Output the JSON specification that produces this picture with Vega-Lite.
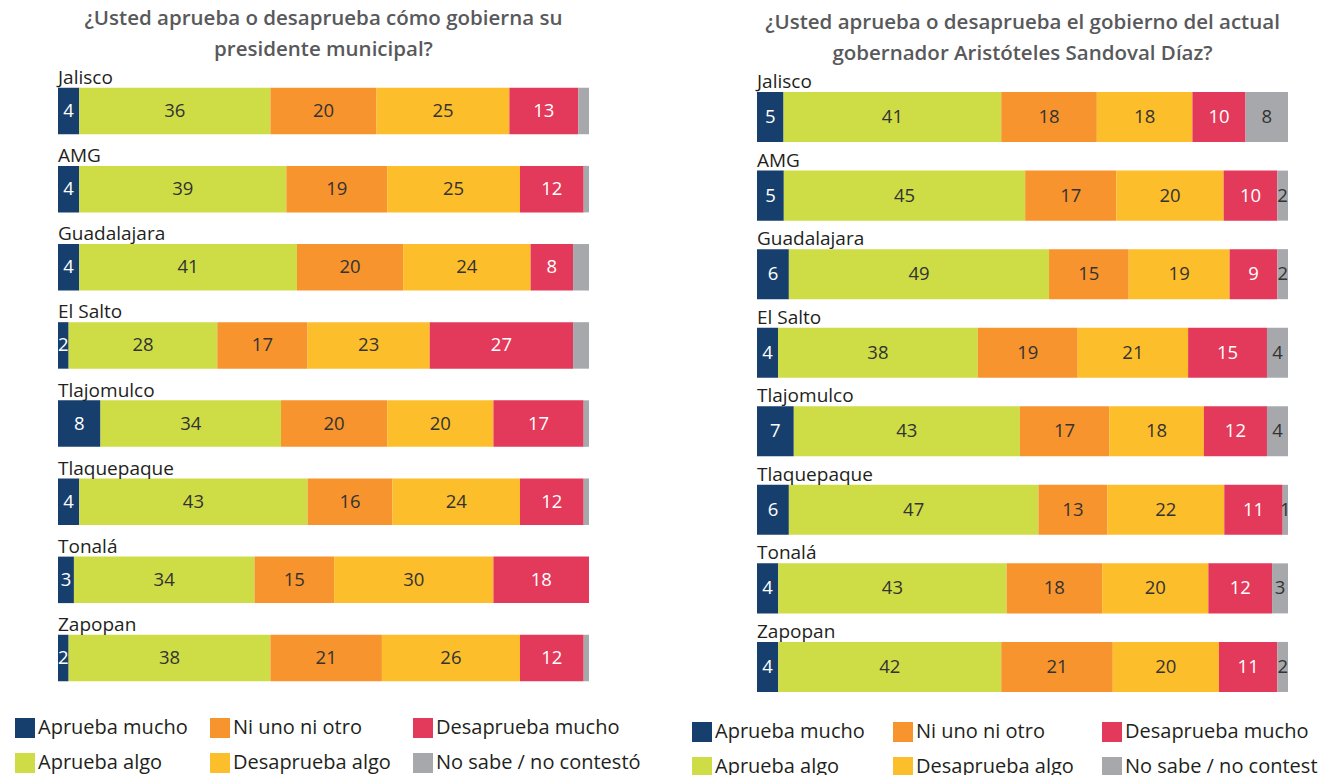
{
  "$schema": "https://vega.github.io/schema/vega-lite/v6.json",
  "padding": {"left": 15, "top": 9, "right": 0, "bottom": 0},
  "background": "white",
  "bounds": "flush",
  "spacing": 168,
  "config": {
    "view": {"stroke": null},
    "font": "Open Sans",
    "title": {"font": "Open Sans", "fontSize": 20.5, "fontWeight": 600, "color": "#58595b", "lineHeight": 31, "anchor": "middle", "frame": "group", "offset": 8},
    "legend": {
      "orient": "none", "direction": "horizontal", "columns": 3, "symbolType": "square", "symbolSize": 400,
      "symbolStrokeWidth": 0, "labelFontSize": 20, "labelFont": "Open Sans", "labelColor": "#231f20",
      "labelOffset": 3, "rowPadding": 15, "columnPadding": 23, "title": null, "labelLimit": 400, "gridAlign": "each"
    }
  },
  "resolve": {"legend": {"color": "independent"}},
  "datasets": {
    "left": [
      {"r": "Jalisco", "c": "Aprueba mucho", "o": 1, "v": 4},
      {"r": "Jalisco", "c": "Aprueba algo", "o": 2, "v": 36},
      {"r": "Jalisco", "c": "Ni uno ni otro", "o": 3, "v": 20},
      {"r": "Jalisco", "c": "Desaprueba algo", "o": 4, "v": 25},
      {"r": "Jalisco", "c": "Desaprueba mucho", "o": 5, "v": 13},
      {"r": "Jalisco", "c": "No sabe / no contestó", "o": 6, "v": 2},
      {"r": "AMG", "c": "Aprueba mucho", "o": 1, "v": 4},
      {"r": "AMG", "c": "Aprueba algo", "o": 2, "v": 39},
      {"r": "AMG", "c": "Ni uno ni otro", "o": 3, "v": 19},
      {"r": "AMG", "c": "Desaprueba algo", "o": 4, "v": 25},
      {"r": "AMG", "c": "Desaprueba mucho", "o": 5, "v": 12},
      {"r": "AMG", "c": "No sabe / no contestó", "o": 6, "v": 1},
      {"r": "Guadalajara", "c": "Aprueba mucho", "o": 1, "v": 4},
      {"r": "Guadalajara", "c": "Aprueba algo", "o": 2, "v": 41},
      {"r": "Guadalajara", "c": "Ni uno ni otro", "o": 3, "v": 20},
      {"r": "Guadalajara", "c": "Desaprueba algo", "o": 4, "v": 24},
      {"r": "Guadalajara", "c": "Desaprueba mucho", "o": 5, "v": 8},
      {"r": "Guadalajara", "c": "No sabe / no contestó", "o": 6, "v": 3},
      {"r": "El Salto", "c": "Aprueba mucho", "o": 1, "v": 2},
      {"r": "El Salto", "c": "Aprueba algo", "o": 2, "v": 28},
      {"r": "El Salto", "c": "Ni uno ni otro", "o": 3, "v": 17},
      {"r": "El Salto", "c": "Desaprueba algo", "o": 4, "v": 23},
      {"r": "El Salto", "c": "Desaprueba mucho", "o": 5, "v": 27},
      {"r": "El Salto", "c": "No sabe / no contestó", "o": 6, "v": 3},
      {"r": "Tlajomulco", "c": "Aprueba mucho", "o": 1, "v": 8},
      {"r": "Tlajomulco", "c": "Aprueba algo", "o": 2, "v": 34},
      {"r": "Tlajomulco", "c": "Ni uno ni otro", "o": 3, "v": 20},
      {"r": "Tlajomulco", "c": "Desaprueba algo", "o": 4, "v": 20},
      {"r": "Tlajomulco", "c": "Desaprueba mucho", "o": 5, "v": 17},
      {"r": "Tlajomulco", "c": "No sabe / no contestó", "o": 6, "v": 1},
      {"r": "Tlaquepaque", "c": "Aprueba mucho", "o": 1, "v": 4},
      {"r": "Tlaquepaque", "c": "Aprueba algo", "o": 2, "v": 43},
      {"r": "Tlaquepaque", "c": "Ni uno ni otro", "o": 3, "v": 16},
      {"r": "Tlaquepaque", "c": "Desaprueba algo", "o": 4, "v": 24},
      {"r": "Tlaquepaque", "c": "Desaprueba mucho", "o": 5, "v": 12},
      {"r": "Tlaquepaque", "c": "No sabe / no contestó", "o": 6, "v": 1},
      {"r": "Tonalá", "c": "Aprueba mucho", "o": 1, "v": 3},
      {"r": "Tonalá", "c": "Aprueba algo", "o": 2, "v": 34},
      {"r": "Tonalá", "c": "Ni uno ni otro", "o": 3, "v": 15},
      {"r": "Tonalá", "c": "Desaprueba algo", "o": 4, "v": 30},
      {"r": "Tonalá", "c": "Desaprueba mucho", "o": 5, "v": 18},
      {"r": "Tonalá", "c": "No sabe / no contestó", "o": 6, "v": 0},
      {"r": "Zapopan", "c": "Aprueba mucho", "o": 1, "v": 2},
      {"r": "Zapopan", "c": "Aprueba algo", "o": 2, "v": 38},
      {"r": "Zapopan", "c": "Ni uno ni otro", "o": 3, "v": 21},
      {"r": "Zapopan", "c": "Desaprueba algo", "o": 4, "v": 26},
      {"r": "Zapopan", "c": "Desaprueba mucho", "o": 5, "v": 12},
      {"r": "Zapopan", "c": "No sabe / no contestó", "o": 6, "v": 1}
    ],
    "right": [
      {"r": "Jalisco", "c": "Aprueba mucho", "o": 1, "v": 5},
      {"r": "Jalisco", "c": "Aprueba algo", "o": 2, "v": 41},
      {"r": "Jalisco", "c": "Ni uno ni otro", "o": 3, "v": 18},
      {"r": "Jalisco", "c": "Desaprueba algo", "o": 4, "v": 18},
      {"r": "Jalisco", "c": "Desaprueba mucho", "o": 5, "v": 10},
      {"r": "Jalisco", "c": "No sabe / no contestó", "o": 6, "v": 8},
      {"r": "AMG", "c": "Aprueba mucho", "o": 1, "v": 5},
      {"r": "AMG", "c": "Aprueba algo", "o": 2, "v": 45},
      {"r": "AMG", "c": "Ni uno ni otro", "o": 3, "v": 17},
      {"r": "AMG", "c": "Desaprueba algo", "o": 4, "v": 20},
      {"r": "AMG", "c": "Desaprueba mucho", "o": 5, "v": 10},
      {"r": "AMG", "c": "No sabe / no contestó", "o": 6, "v": 2},
      {"r": "Guadalajara", "c": "Aprueba mucho", "o": 1, "v": 6},
      {"r": "Guadalajara", "c": "Aprueba algo", "o": 2, "v": 49},
      {"r": "Guadalajara", "c": "Ni uno ni otro", "o": 3, "v": 15},
      {"r": "Guadalajara", "c": "Desaprueba algo", "o": 4, "v": 19},
      {"r": "Guadalajara", "c": "Desaprueba mucho", "o": 5, "v": 9},
      {"r": "Guadalajara", "c": "No sabe / no contestó", "o": 6, "v": 2},
      {"r": "El Salto", "c": "Aprueba mucho", "o": 1, "v": 4},
      {"r": "El Salto", "c": "Aprueba algo", "o": 2, "v": 38},
      {"r": "El Salto", "c": "Ni uno ni otro", "o": 3, "v": 19},
      {"r": "El Salto", "c": "Desaprueba algo", "o": 4, "v": 21},
      {"r": "El Salto", "c": "Desaprueba mucho", "o": 5, "v": 15},
      {"r": "El Salto", "c": "No sabe / no contestó", "o": 6, "v": 4},
      {"r": "Tlajomulco", "c": "Aprueba mucho", "o": 1, "v": 7},
      {"r": "Tlajomulco", "c": "Aprueba algo", "o": 2, "v": 43},
      {"r": "Tlajomulco", "c": "Ni uno ni otro", "o": 3, "v": 17},
      {"r": "Tlajomulco", "c": "Desaprueba algo", "o": 4, "v": 18},
      {"r": "Tlajomulco", "c": "Desaprueba mucho", "o": 5, "v": 12},
      {"r": "Tlajomulco", "c": "No sabe / no contestó", "o": 6, "v": 4},
      {"r": "Tlaquepaque", "c": "Aprueba mucho", "o": 1, "v": 6},
      {"r": "Tlaquepaque", "c": "Aprueba algo", "o": 2, "v": 47},
      {"r": "Tlaquepaque", "c": "Ni uno ni otro", "o": 3, "v": 13},
      {"r": "Tlaquepaque", "c": "Desaprueba algo", "o": 4, "v": 22},
      {"r": "Tlaquepaque", "c": "Desaprueba mucho", "o": 5, "v": 11},
      {"r": "Tlaquepaque", "c": "No sabe / no contestó", "o": 6, "v": 1},
      {"r": "Tonalá", "c": "Aprueba mucho", "o": 1, "v": 4},
      {"r": "Tonalá", "c": "Aprueba algo", "o": 2, "v": 43},
      {"r": "Tonalá", "c": "Ni uno ni otro", "o": 3, "v": 18},
      {"r": "Tonalá", "c": "Desaprueba algo", "o": 4, "v": 20},
      {"r": "Tonalá", "c": "Desaprueba mucho", "o": 5, "v": 12},
      {"r": "Tonalá", "c": "No sabe / no contestó", "o": 6, "v": 3},
      {"r": "Zapopan", "c": "Aprueba mucho", "o": 1, "v": 4},
      {"r": "Zapopan", "c": "Aprueba algo", "o": 2, "v": 42},
      {"r": "Zapopan", "c": "Ni uno ni otro", "o": 3, "v": 21},
      {"r": "Zapopan", "c": "Desaprueba algo", "o": 4, "v": 20},
      {"r": "Zapopan", "c": "Desaprueba mucho", "o": 5, "v": 11},
      {"r": "Zapopan", "c": "No sabe / no contestó", "o": 6, "v": 2}
    ]
  },
  "hconcat": [
    {
      "width": 531,
      "height": 625,
      "title": {"text": ["¿Usted aprueba o desaprueba cómo gobierna su", "presidente municipal?"]},
      "data": {"name": "left"},
      "encoding": {
        "y": {"field": "r", "type": "nominal", "sort": null, "axis": null, "scale": {"paddingInner": 0.405, "paddingOuter": 0.2014}}
      },
      "layer": [
        {
          "mark": {"type": "bar"},
          "encoding": {
            "x": {"field": "v", "type": "quantitative", "stack": "normalize", "axis": null},
            "color": {
              "field": "c", "type": "nominal",
              "scale": {
                "domain": ["Aprueba mucho", "Ni uno ni otro", "Desaprueba mucho", "Aprueba algo", "Desaprueba algo", "No sabe / no contestó"],
                "range": ["#173f6d", "#f7942d", "#e3395a", "#cedd45", "#fdbe2b", "#a7a8ac"]
              },
              "legend": {"legendX": -43, "legendY": 646, "columnPadding": 22}
            },
            "order": {"field": "o", "type": "quantitative"}
          }
        },
        {
          "mark": {"type": "text", "fontSize": 18.5, "font": "Open Sans"},
          "encoding": {
            "x": {"field": "v", "type": "quantitative", "stack": "normalize", "bandPosition": 0.5},
            "detail": {"field": "c"},
            "order": {"field": "o", "type": "quantitative"},
            "text": {"condition": {"test": "datum.c === 'No sabe / no contestó'", "value": ""}, "field": "v", "type": "quantitative"},
            "color": {"condition": {"test": "datum.c === 'Aprueba mucho' || datum.c === 'Desaprueba mucho'", "value": "white"}, "value": "#333333"}
          }
        },
        {
          "transform": [{"filter": "datum.o === 1"}],
          "mark": {"type": "text", "align": "left", "baseline": "alphabetic", "dy": -27, "fontSize": 19, "font": "Open Sans", "color": "#231f20"},
          "encoding": {
            "x": {"datum": 0, "type": "quantitative"},
            "text": {"field": "r"}
          }
        }
      ]
    },
    {
      "width": 531,
      "height": 640,
      "title": {"text": ["¿Usted aprueba o desaprueba el gobierno del actual", "gobernador Aristóteles Sandoval Díaz?"]},
      "data": {"name": "right"},
      "encoding": {
        "y": {"field": "r", "type": "nominal", "sort": null, "axis": null, "scale": {"paddingInner": 0.363, "paddingOuter": 0.255}}
      },
      "layer": [
        {
          "mark": {"type": "bar"},
          "encoding": {
            "x": {"field": "v", "type": "quantitative", "stack": "normalize", "axis": null},
            "color": {
              "field": "c", "type": "nominal",
              "scale": {
                "domain": ["Aprueba mucho", "Ni uno ni otro", "Desaprueba mucho", "Aprueba algo", "Desaprueba algo", "No sabe / no contestó"],
                "range": ["#173f6d", "#f7942d", "#e3395a", "#cedd45", "#fdbe2b", "#a7a8ac"]
              },
              "legend": {"legendX": -65, "legendY": 650, "columnPadding": 28}
            },
            "order": {"field": "o", "type": "quantitative"}
          }
        },
        {
          "mark": {"type": "text", "fontSize": 18.5, "font": "Open Sans"},
          "encoding": {
            "x": {"field": "v", "type": "quantitative", "stack": "normalize", "bandPosition": 0.5},
            "detail": {"field": "c"},
            "order": {"field": "o", "type": "quantitative"},
            "text": {"field": "v", "type": "quantitative"},
            "color": {"condition": {"test": "datum.c === 'Aprueba mucho' || datum.c === 'Desaprueba mucho'", "value": "white"}, "value": "#333333"}
          }
        },
        {
          "transform": [{"filter": "datum.o === 1"}],
          "mark": {"type": "text", "align": "left", "baseline": "alphabetic", "dy": -29, "fontSize": 19, "font": "Open Sans", "color": "#231f20"},
          "encoding": {
            "x": {"datum": 0, "type": "quantitative"},
            "text": {"field": "r"}
          }
        }
      ]
    }
  ]
}
